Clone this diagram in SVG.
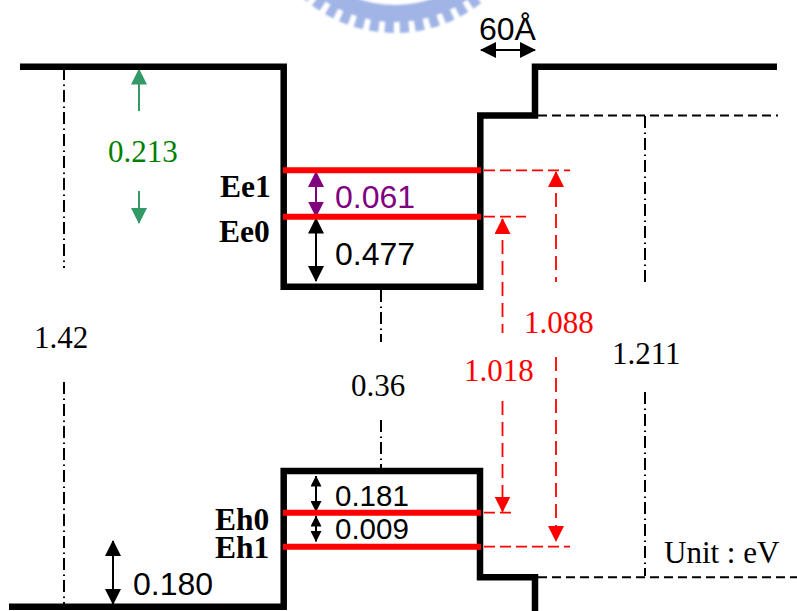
<svg xmlns="http://www.w3.org/2000/svg" width="797" height="611" viewBox="0 0 797 611">
<style>
.t{font-family:"Liberation Serif",serif;font-size:31px}
.s{font-family:"Liberation Sans",sans-serif;font-size:32px}
.b{font-family:"Liberation Serif",serif;font-size:31.500px;font-weight:bold}
.band{fill:none;stroke:#000;stroke-width:6.500;stroke-linejoin:miter}
.lvl{stroke:#f00;stroke-width:6}
.dd{stroke:#000;stroke-width:2;fill:none;stroke-dasharray:12 4.500 1.500 4}
.da{stroke:#000;stroke-width:2;fill:none;stroke-dasharray:9 5}
.rh{stroke:#f00;stroke-width:1.700;fill:none;stroke-dasharray:11 5}
.rd{stroke:#f00;stroke-width:1.800;fill:none;stroke-dasharray:14 7}
.ln{stroke:#000;stroke-width:2;fill:none}
</style>
<defs>
<filter id="soft" x="-5%" y="-5%" width="110%" height="110%"><feGaussianBlur stdDeviation="0.900"/></filter>
<marker id="ak" viewBox="0 0 16 16" refX="15" refY="8" markerWidth="16" markerHeight="16" markerUnits="userSpaceOnUse" orient="auto-start-reverse"><path d="M0 0L16 8L0 16Z" fill="#000"/></marker>
<marker id="as" viewBox="0 0 11 11" refX="10.500" refY="5.500" markerWidth="11" markerHeight="11" markerUnits="userSpaceOnUse" orient="auto-start-reverse"><path d="M0 0L11 5.500L0 11Z" fill="#000"/></marker>
<marker id="ap" viewBox="0 0 16 16" refX="15" refY="8" markerWidth="16" markerHeight="16" markerUnits="userSpaceOnUse" orient="auto-start-reverse"><path d="M0 0L16 8L0 16Z" fill="#800080"/></marker>
<marker id="ag" viewBox="0 0 16 16" refX="15" refY="8" markerWidth="16" markerHeight="16" markerUnits="userSpaceOnUse" orient="auto-start-reverse"><path d="M0 0L16 8L0 16Z" fill="#339966"/></marker>
<marker id="ar" viewBox="0 0 16 16" refX="15" refY="8" markerWidth="16" markerHeight="16" markerUnits="userSpaceOnUse" orient="auto-start-reverse"><path d="M0 0L16 8L0 16Z" fill="#f00"/></marker>
</defs>
<g id="watermark" filter="url(#soft)">
<circle cx="395" cy="-106" r="105" fill="#e6ecf9"/>
<circle cx="395" cy="-106" r="119.500" fill="none" stroke="#a0b4e6" stroke-width="17"/>
<circle cx="395" cy="-106" r="133" fill="none" stroke="#a0b4e6" stroke-width="12" stroke-dasharray="9 6"/>
</g>
<g id="connectors">
<path class="dd" d="M64 68V268M64 382V604M381 290V342M381 420V468M645 116V284M645 392V576"/>
<path class="da" d="M538 115.500H778M538 577.300H797"/>
<path class="rh" d="M484 170.300H570M484 216.700H526M484 512.700H515M484 546.700H570"/>
<path class="rd" d="M556 172V282M556 357V541" marker-start="url(#ar)" marker-end="url(#ar)"/>
<path class="rd" d="M502.500 219V333M502.500 401V511.500" marker-start="url(#ar)" marker-end="url(#ar)"/>
<path d="M139 111V69.500" stroke="#339966" stroke-width="2" fill="none" marker-end="url(#ag)"/>
<path d="M139 191V223" stroke="#339966" stroke-width="2" fill="none" marker-end="url(#ag)"/>
<path d="M316 172V216.500" stroke="#800080" stroke-width="2" fill="none" marker-start="url(#ap)" marker-end="url(#ap)"/>
<path class="ln" d="M316 218.500V281" marker-start="url(#ak)" marker-end="url(#ak)"/>
<path class="ln" d="M316 476V511.500" marker-start="url(#as)" marker-end="url(#as)"/>
<path class="ln" d="M316 516V541.500" marker-start="url(#as)" marker-end="url(#as)"/>
<path class="ln" d="M113 541V604" marker-start="url(#ak)" marker-end="url(#ak)"/>
<path class="ln" d="M481 50H535" marker-start="url(#ak)" marker-end="url(#ak)"/>
</g>
<g id="bands">
<path class="band" d="M20 66.700H283.700V286.700H480.300V115.500H535V66.700H777"/>
<path class="band" d="M9 606.700H283.700V471H480V577.300H535V611"/>
</g>
<g id="levels">
<path class="lvl" d="M283 170.300H481M283 216.700H481M283 512.700H481M283 546.700H481"/>
</g>
<g id="labels">
<text class="s" x="479" y="40">60Å</text>
<text class="t" x="108" y="161.500" fill="#008000">0.213</text>
<text class="b" x="220" y="197">Ee1</text>
<text class="b" x="219" y="241.500">Ee0</text>
<text class="s" x="335" y="208" fill="#800080">0.061</text>
<text class="s" x="335" y="265">0.477</text>
<text class="t" x="34" y="348">1.42</text>
<text class="t" x="351" y="396">0.36</text>
<text class="t" x="524" y="333" fill="#f00">1.088</text>
<text class="t" x="464" y="381" fill="#f00">1.018</text>
<text class="t" x="612" y="364">1.211</text>
<text class="s" x="335" y="506" style="font-size:29.500px">0.181</text>
<text class="s" x="335" y="539" style="font-size:29.500px">0.009</text>
<text class="b" x="215" y="530">Eh0</text>
<text class="b" x="215" y="557.500">Eh1</text>
<text class="s" x="133" y="595">0.180</text>
<text class="t" x="664" y="563">Unit : eV</text>
</g>
</svg>
